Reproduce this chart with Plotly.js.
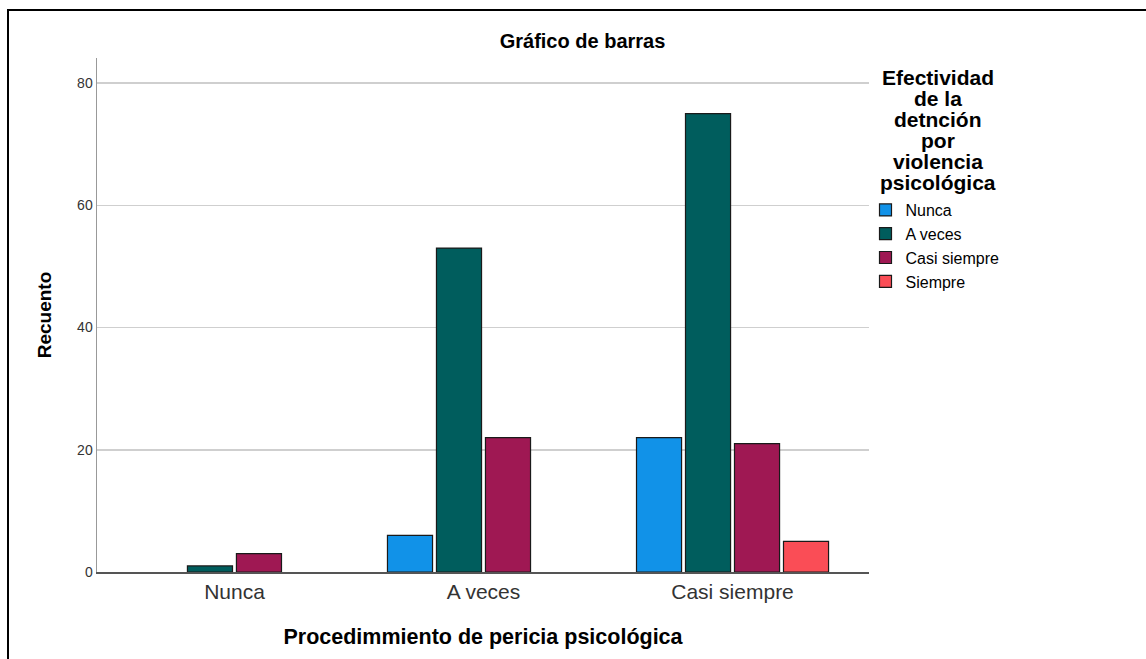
<!DOCTYPE html>
<html>
<head>
<meta charset="utf-8">
<script src="https://cdn.plot.ly/plotly-3.0.1.min.js"></script>
<style>
  html, body { margin: 0; padding: 0; background: #fff; }
  #wrap { position: relative; width: 1146px; height: 659px; overflow: hidden; }
  #chart { position: absolute; left: 0; top: 0; width: 1146px; height: 659px; }
  #frame { position: absolute; left: 7px; top: 9px; width: 1139px; height: 650px;
           border-top: 2px solid #000; border-left: 2px solid #000; box-sizing: border-box; pointer-events: none; }
</style>
</head>
<body>
<div id="wrap">
  <div id="chart"></div>
  <div id="frame"></div>
</div>
<script>
// Data
const categories = ["Nunca", "A veces", "Casi siempre"];
const seriesNames = ["Nunca", "A veces", "Casi siempre", "Siempre"];
const serNunca = [0, 6, 22];
const serAVeces = [1, 53, 75];
const serCasiSiempre = [3, 22, 21];
const serSiempre = [0, 0, 5];
const yTicks = [0, 20, 40, 60, 80];
const legendTitleLines = ["Efectividad", "de la", "detnción", "por", "violencia", "psicológica"];

const colors = ["#1192e8", "#005d5d", "#9f1853", "#fa4d56"];
const values = [serNunca, serAVeces, serCasiSiempre, serSiempre];

const W = 1146, H = 659;
const M = { l: 97, r: 277, t: 58, b: 87 };
const plotH = H - M.t - M.b;
function py2paper(py) { return (H - M.b - py) / plotH; }
function px2paper(px) { return (px - M.l) / (W - M.l - M.r); }

const FONT = "Liberation Sans, Arial, sans-serif";

// Zero counts are not drawn as bars (as in the original chart)
const traces = seriesNames.map((name, i) => ({
  type: "bar",
  name: name,
  x: categories,
  y: values[i].map(v => (v === 0 ? null : v)),
  marker: {
    color: colors[i],
    line: { color: "#1a1a1a", width: 1.2 }
  },
  hoverinfo: "x+y+name"
}));

const annotations = legendTitleLines.map((t, k) => ({
  text: "<b>" + t + "</b>",
  xref: "paper", yref: "paper",
  x: px2paper(938), y: py2paper(77.5 + k * 21),
  xanchor: "center", yanchor: "middle",
  showarrow: false,
  font: { family: FONT, size: 21, color: "#000" }
}));

const layout = {
  width: W, height: H,
  margin: M,
  paper_bgcolor: "#fff",
  plot_bgcolor: "#fff",
  font: { family: FONT, color: "#000" },
  title: {
    text: "<b>Gráfico de barras</b>",
    xref: "container", yref: "container",
    x: 582.5 / W, y: 1 - 41 / H, xanchor: "center", yanchor: "middle",
    font: { family: FONT, size: 20, color: "#000" }
  },
  barmode: "group",
  bargap: 0.213,
  bargroupgap: 0.08,
  xaxis: {
    type: "category",
    categoryorder: "array", categoryarray: categories,
    range: [-0.552, 2.548],
    showline: true, linecolor: "#555", linewidth: 1.5,
    showgrid: false, zeroline: false, ticks: "",
    tickfont: { family: FONT, size: 21, color: "#333" },
    title: { text: "<b>Procedimmiento de pericia psicológica</b>", standoff: 27,
             font: { family: FONT, size: 21.5, color: "#000" } }
  },
  yaxis: {
    range: [0, 84.1],
    tickvals: yTicks,
    ticktext: yTicks.map(String),
    showline: true, linecolor: "#999", linewidth: 1.5,
    showgrid: true, gridcolor: "#cfcfcf", gridwidth: 1.5,
    zeroline: false, ticks: "",
    tickfont: { family: FONT, size: 14, color: "#333" },
    title: { text: "<b>Recuento</b>", standoff: 20,
             font: { family: FONT, size: 19, color: "#000" } }
  },
  legend: {
    x: px2paper(865.5), xanchor: "left",
    y: py2paper(193), yanchor: "top",
    font: { family: FONT, size: 16, color: "#000" },
    bgcolor: "rgba(0,0,0,0)",
    itemwidth: 30,
    traceorder: "normal"
  },
  showlegend: true,
  annotations: annotations
};

Plotly.newPlot("chart", traces, layout, { displayModeBar: false, staticPlot: true });
</script>
</body>
</html>
